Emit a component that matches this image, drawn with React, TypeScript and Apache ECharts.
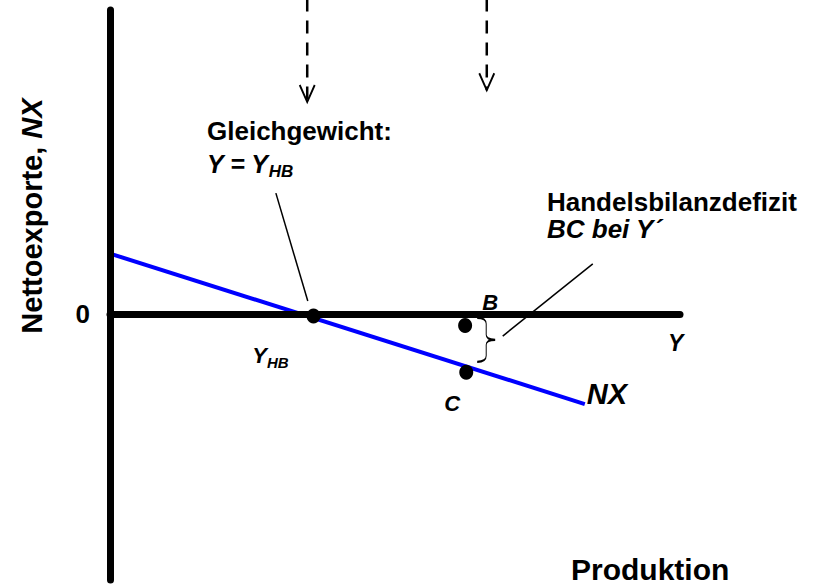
import React, { useEffect, useRef } from "react";
import * as echarts from "echarts";

const FONT = '"Liberation Sans", Arial, Helvetica, sans-serif';

// Axis ranges (value space)
const xRange = [0, 10];
const yRange = [-7, 8];
const yTickLabels = ["0"];

// NX line (net exports as a function of output)
const nxLine: number[][] = [
  [0, 1.59],
  [8.33, -2.37],
];
// Points
const equilibrium = [3.57, -0.05];
const pointB = [6.23, -0.3];
const pointC = [6.25, -1.53];
// Dashed shift arrows (x, top, tip)
const arrowXs = [3.46, 6.61];
const arrowTop = 8.3;
const arrowTips = [5.58, 5.89];
// Leader lines
const leaderEq: number[][] = [
  [2.91, 3.18],
  [3.47, 0.34],
];
const leaderDef: number[][] = [
  [8.47, 1.32],
  [6.89, -0.58],
];
// Brace between B and C
const braceCenter = [6.6, -0.68];

const BRACE =
  "path://M0,0 C5,0 8,2 8,6 L8,17 C8,20 10,22 16,22 C10,22 8,24 8,27 L8,38 C8,42 5,44 0,44";
const ARROW = "path://M0,0 L7,16 L14,0";

export default function App() {
  const ref = useRef<HTMLDivElement>(null);
  useEffect(() => {
    if (!ref.current) return;
    const chart = echarts.init(ref.current, undefined, { renderer: "svg" });
    const dotStyle = { color: "#000", opacity: 1 };
    const lbl = (extra: any) => ({
      fontFamily: FONT,
      fontWeight: "bold",
      fontStyle: "italic",
      color: "#000",
      ...extra,
    });
    const series: any[] = [
      {
        type: "line",
        data: nxLine,
        showSymbol: false,
        symbol: "none",
        lineStyle: { color: "#0000ff", width: 4 },
        endLabel: {
          show: true,
          formatter: "NX",
          distance: 2,
          offset: [0, -10],
          ...lbl({ fontSize: 29 }),
        },
        z: 2,
        silent: true,
      },
      {
        type: "line",
        data: leaderEq,
        symbol: "none",
        lineStyle: { color: "#000", width: 1.5 },
        z: 2,
      },
      {
        type: "line",
        data: leaderDef,
        symbol: "none",
        lineStyle: { color: "#000", width: 1.5 },
        z: 2,
      },
      ...arrowXs.map((ax, i) => ({
        type: "line",
        data: [
          [ax, arrowTop],
          [ax, arrowTips[i]],
        ],
        symbol: "none",
        clip: false,
        lineStyle: { color: "#000", width: 2.5, type: [13, 9] },
        z: 2,
      })),
      {
        type: "scatter",
        data: arrowXs.map((ax, i) => [ax, arrowTips[i]]),
        symbol: ARROW,
        symbolSize: [15, 17],
        symbolOffset: [0, -8.5],
        itemStyle: { color: "none", borderColor: "#000", borderWidth: 2, opacity: 1 },
        clip: false,
        z: 3,
      },
      {
        type: "scatter",
        data: [braceCenter],
        symbol: BRACE,
        symbolSize: [18, 44],
        itemStyle: { color: "none", borderColor: "#000", borderWidth: 1.5, opacity: 1 },
        z: 3,
      },
      {
        type: "scatter",
        symbolSize: [14, 15],
        itemStyle: dotStyle,
        z: 5,
        data: [
          {
            value: equilibrium,
            label: {
              show: true,
              position: "inside",
              offset: [-43, 40],
              formatter: "{a|Y}{b|HB}",
              rich: {
                a: lbl({ fontSize: 22, lineHeight: 22, verticalAlign: "top" }),
                b: lbl({ fontSize: 15, lineHeight: 15, padding: [10, 0, 0, 0], verticalAlign: "top" }),
              },
            },
          },
          {
            value: pointB,
            label: {
              show: true,
              position: "inside",
              offset: [25, -23],
              formatter: "B",
              ...lbl({ fontSize: 22 }),
            },
          },
          {
            value: pointC,
            label: {
              show: true,
              position: "inside",
              offset: [-14, 31],
              formatter: "C",
              ...lbl({ fontSize: 22 }),
            },
          },
        ],
      },
    ];

    const txt = (x: number, y: number, text: string, size: number, italic = false, extra: any = {}) => ({
      type: "text",
      x,
      y,
      z: 10,
      style: {
        text,
        fontFamily: FONT,
        fontSize: size,
        fontWeight: "bold",
        fontStyle: italic ? "italic" : "normal",
        fill: "#000",
        verticalAlign: "middle",
        ...extra,
      },
    });

    const richFill = (extra: any) => ({
      fontFamily: FONT,
      fontWeight: "bold",
      fontStyle: "italic",
      fill: "#000",
      ...extra,
    });

    chart.setOption({
      animation: false,
      backgroundColor: "#fff",
      grid: { left: 110, right: 133, top: 10, bottom: 4, containLabel: false },
      xAxis: {
        type: "value",
        min: xRange[0],
        max: xRange[1],
        z: 3,
        axisLine: { show: true, onZero: true, lineStyle: { color: "#000", width: 7 } },
        axisTick: { show: false },
        axisLabel: { show: false },
        splitLine: { show: false },
      },
      yAxis: {
        type: "value",
        min: yRange[0],
        max: yRange[1],
        interval: 1,
        z: 3,
        axisLine: { show: true, onZero: true, lineStyle: { color: "#000", width: 7 } },
        axisTick: { show: false },
        axisLabel: {
          show: true,
          margin: 20,
          formatter: (v: number) => (yTickLabels.includes(String(v)) ? String(v) : ""),
          fontFamily: FONT,
          fontSize: 26,
          fontWeight: "bold",
          color: "#000",
        },
        splitLine: { show: false },
      },
      graphic: [
        txt(207, 131, "Gleichgewicht:", 26),
        {
          type: "text",
          x: 207,
          y: 151,
          z: 10,
          style: {
            text: "{a|Y = Y}{b|HB}",
            verticalAlign: "top",
            rich: {
              a: richFill({ fontSize: 25, lineHeight: 25, verticalAlign: "top" }),
              b: richFill({ fontSize: 17, lineHeight: 17, padding: [12, 0, 0, 0], verticalAlign: "top" }),
            },
          },
        },
        txt(547, 202, "Handelsbilanzdefizit", 26, false, { lineHeight: 24 }),
        txt(547, 229, "BC bei Y´", 26, true, { lineHeight: 24 }),
        txt(668, 343, "Y", 23, true),
        txt(571, 569, "Produktion", 30, false, { lineHeight: 26 }),
        {
          type: "text",
          x: 32,
          y: 216,
          rotation: Math.PI / 2,
          z: 10,
          style: {
            text: "Nettoexporte, {i|NX}",
            fontFamily: FONT,
            fontSize: 29,
            fontWeight: "bold",
            fill: "#000",
            align: "center",
            verticalAlign: "middle",
            rich: {
              i: richFill({ fontSize: 29 }),
            },
          },
        },
      ],
      series,
    });
    return () => chart.dispose();
  }, []);
  return (
    <div
      ref={ref}
      style={{ position: "fixed", left: 0, top: 0, width: 813, height: 584, background: "#fff" }}
    />
  );
}
